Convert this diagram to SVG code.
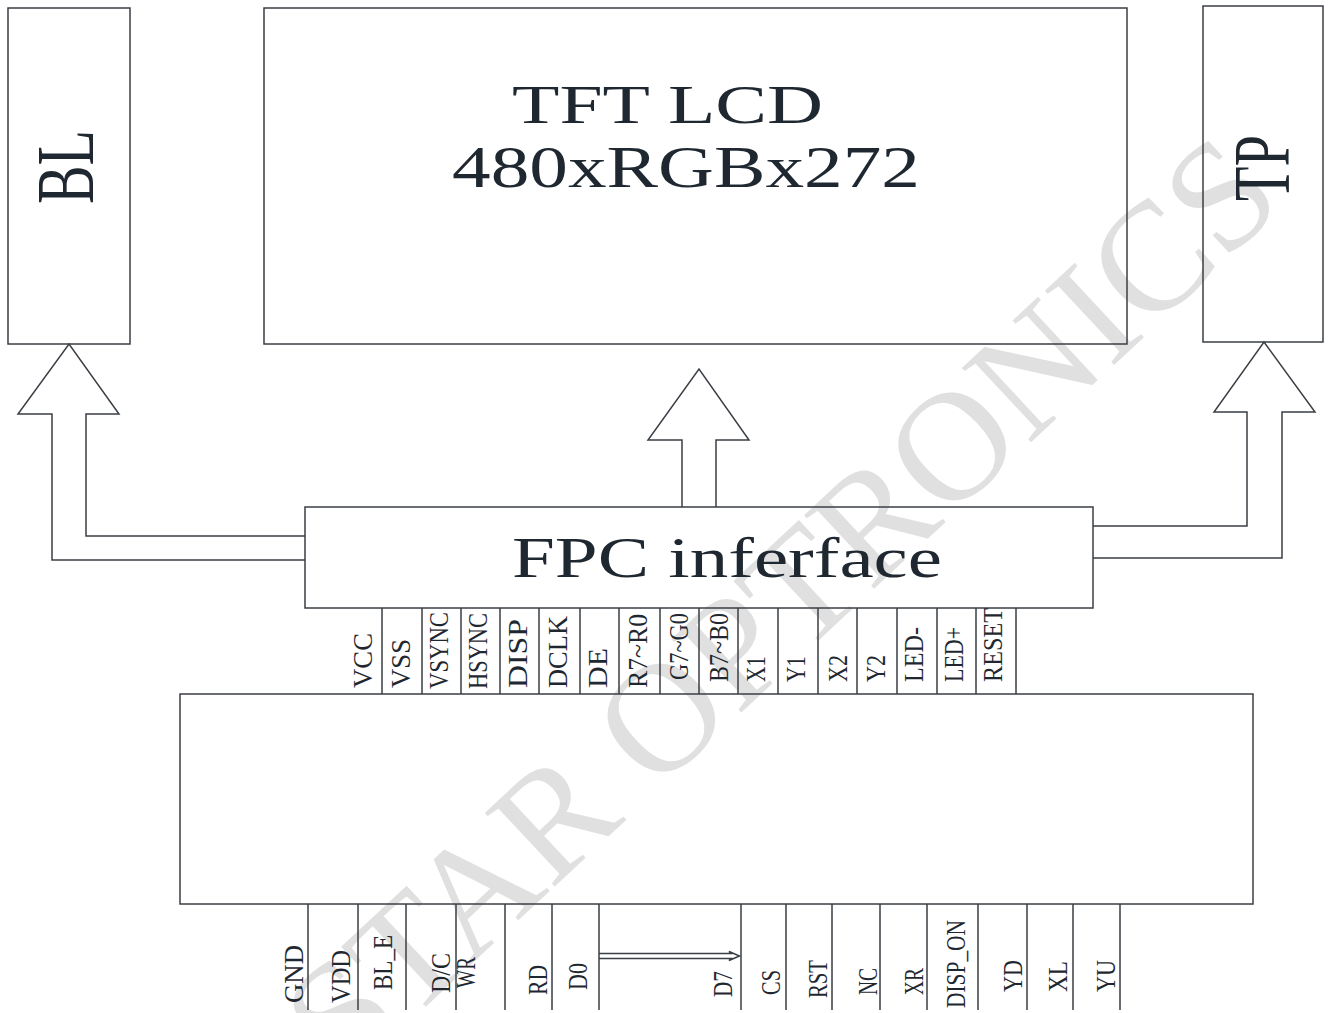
<svg xmlns="http://www.w3.org/2000/svg" width="1330" height="1013" viewBox="0 0 1330 1013">
<style>
.box{fill:none;stroke:#3a3f45;stroke-width:1.5}
.ln{fill:none;stroke:#3a3f45;stroke-width:1.5}
.t{font-family:"Liberation Serif","Times New Roman",serif;fill:#1f2830}
.pin{font-family:"Liberation Serif","Times New Roman",serif;fill:#1f2830;font-size:28px}
.wm{font-family:"Liberation Serif","Times New Roman",serif;fill:#e0e0e0;font-size:155px}
</style>
<rect width="1330" height="1013" fill="#ffffff"/>
<g id="watermark">
<text class="wm" transform="translate(345,1082) rotate(-43)" textLength="1288" lengthAdjust="spacingAndGlyphs">STAR OPTRONICS</text>
</g>
<g id="bl">
<rect class="box" x="8" y="8" width="122" height="336"/>
<text class="t" font-size="82" transform="translate(93,204) rotate(-90)" textLength="74" lengthAdjust="spacingAndGlyphs">BL</text>
</g>
<g id="lcd">
<rect class="box" x="264" y="8" width="863" height="336"/>
<text class="t" font-size="54" x="512" y="123" textLength="311" lengthAdjust="spacingAndGlyphs">TFT LCD</text>
<text class="t" font-size="59" x="452" y="187" textLength="468" lengthAdjust="spacingAndGlyphs">480xRGBx272</text>
</g>
<g id="tp">
<rect class="box" x="1203" y="6" width="120" height="336"/>
<text class="t" font-size="80" transform="translate(1289,201) rotate(-90)" textLength="66" lengthAdjust="spacingAndGlyphs">TP</text>
</g>
<g id="fpc">
<rect class="box" x="305" y="507" width="788" height="101"/>
<text class="t" font-size="57" x="512" y="577" textLength="430" lengthAdjust="spacingAndGlyphs">FPC inferface</text>
</g>
<g id="connectors">
<polyline class="ln" points="305,560 52,560 52,414 18,414 69,344 119,414 86,414 86,536 305,536"/>
<polyline class="ln" points="682,507 682,440 648,440 699,369 749,440 716,440 716,507"/>
<polyline class="ln" points="1093,526 1247,526 1247,412 1214,412 1264,342 1315,412 1282,412 1282,558 1093,558"/>
<path class="ln" stroke-width="1.2" d="M599,953.5 H731 L729,951.5 L739.5,956 L729,960.5 L731,958.5 H599"/>
</g>
<g id="top-pins">
<path class="ln" d="M382,608V694M422,608V694M461,608V694M500,608V694M539,608V694M580,608V694M619,608V694M660,608V694M699,608V694M738,608V694M778,608V694M818,608V694M857,608V694M897,608V694M937,608V694M976,608V694M1016,608V694"/>
<text class="pin" transform="translate(372,688) rotate(-90)" textLength="55" lengthAdjust="spacingAndGlyphs">VCC</text>
<text class="pin" transform="translate(410,688) rotate(-90)" textLength="49" lengthAdjust="spacingAndGlyphs">VSS</text>
<text class="pin" transform="translate(448,689) rotate(-90)" textLength="77" lengthAdjust="spacingAndGlyphs">VSYNC</text>
<text class="pin" transform="translate(487,689) rotate(-90)" textLength="76" lengthAdjust="spacingAndGlyphs">HSYNC</text>
<text class="pin" transform="translate(527,688) rotate(-90)" textLength="69" lengthAdjust="spacingAndGlyphs">DISP</text>
<text class="pin" transform="translate(567,688) rotate(-90)" textLength="72" lengthAdjust="spacingAndGlyphs">DCLK</text>
<text class="pin" transform="translate(607,688) rotate(-90)" textLength="40" lengthAdjust="spacingAndGlyphs">DE</text>
<text class="pin" transform="translate(647,688) rotate(-90)" textLength="74" lengthAdjust="spacingAndGlyphs">R7~R0</text>
<text class="pin" transform="translate(688,680) rotate(-90)" textLength="67" lengthAdjust="spacingAndGlyphs">G7~G0</text>
<text class="pin" transform="translate(728,682) rotate(-90)" textLength="69" lengthAdjust="spacingAndGlyphs">B7~B0</text>
<text class="pin" transform="translate(765,682) rotate(-90)" textLength="26" lengthAdjust="spacingAndGlyphs">X1</text>
<text class="pin" transform="translate(805,682) rotate(-90)" textLength="26" lengthAdjust="spacingAndGlyphs">Y1</text>
<text class="pin" transform="translate(847,682) rotate(-90)" textLength="27" lengthAdjust="spacingAndGlyphs">X2</text>
<text class="pin" transform="translate(885,682) rotate(-90)" textLength="27" lengthAdjust="spacingAndGlyphs">Y2</text>
<text class="pin" transform="translate(923,682) rotate(-90)" textLength="55" lengthAdjust="spacingAndGlyphs">LED-</text>
<text class="pin" transform="translate(963,682) rotate(-90)" textLength="55" lengthAdjust="spacingAndGlyphs">LED+</text>
<text class="pin" transform="translate(1002,682) rotate(-90)" textLength="74" lengthAdjust="spacingAndGlyphs">RESET</text>
</g>
<g id="main-board">
<rect class="box" x="180" y="694" width="1073" height="210"/>
</g>
<g id="bottom-pins">
<path class="ln" d="M308,904V1010M358,904V1010M406,904V1010M456,904V1010M505,904V1010M552,904V1010M599,904V1010M741,904V1010M786,904V1010M832,904V1010M880,904V1010M927,904V1010M978,904V1010M1027,904V1010M1073,904V1010M1120,904V1010"/>
<text class="pin" transform="translate(303,1003) rotate(-90)" textLength="58" lengthAdjust="spacingAndGlyphs">GND</text>
<text class="pin" transform="translate(350,1003) rotate(-90)" textLength="53" lengthAdjust="spacingAndGlyphs">VDD</text>
<text class="pin" transform="translate(392,990) rotate(-90)" textLength="55" lengthAdjust="spacingAndGlyphs">BL_E</text>
<text class="pin" transform="translate(450,993) rotate(-90)" textLength="40" lengthAdjust="spacingAndGlyphs">D/C</text>
<text class="pin" transform="translate(475,988) rotate(-90)" textLength="31" lengthAdjust="spacingAndGlyphs">WR</text>
<text class="pin" transform="translate(547,995) rotate(-90)" textLength="30" lengthAdjust="spacingAndGlyphs">RD</text>
<text class="pin" transform="translate(587,990) rotate(-90)" textLength="27" lengthAdjust="spacingAndGlyphs">D0</text>
<text class="pin" transform="translate(732,997) rotate(-90)" textLength="26" lengthAdjust="spacingAndGlyphs">D7</text>
<text class="pin" transform="translate(780,995) rotate(-90)" textLength="25" lengthAdjust="spacingAndGlyphs">CS</text>
<text class="pin" transform="translate(827,998) rotate(-90)" textLength="38" lengthAdjust="spacingAndGlyphs">RST</text>
<text class="pin" transform="translate(877,995) rotate(-90)" textLength="27" lengthAdjust="spacingAndGlyphs">NC</text>
<text class="pin" transform="translate(923,995) rotate(-90)" textLength="27" lengthAdjust="spacingAndGlyphs">XR</text>
<text class="pin" transform="translate(965,1008) rotate(-90)" textLength="88" lengthAdjust="spacingAndGlyphs">DISP_ON</text>
<text class="pin" transform="translate(1022,992) rotate(-90)" textLength="32" lengthAdjust="spacingAndGlyphs">YD</text>
<text class="pin" transform="translate(1067,992) rotate(-90)" textLength="31" lengthAdjust="spacingAndGlyphs">XL</text>
<text class="pin" transform="translate(1115,992) rotate(-90)" textLength="32" lengthAdjust="spacingAndGlyphs">YU</text>
</g>
</svg>
